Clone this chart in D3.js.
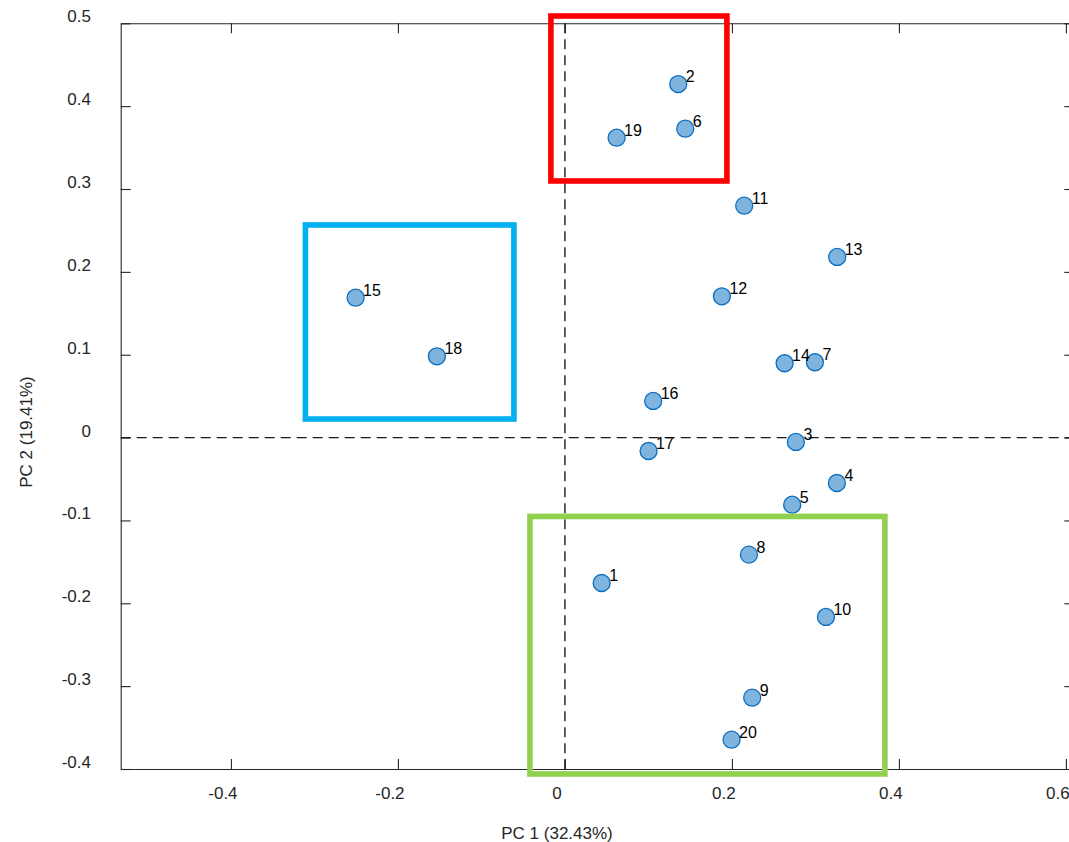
<!DOCTYPE html>
<html>
<head>
<meta charset="utf-8">
<script src="https://cdn.jsdelivr.net/npm/d3@7"></script>
<style>
  html, body { margin: 0; padding: 0; background: #fff; }
  svg { display: block; font-family: "Liberation Sans", Arial, sans-serif; }
</style>
</head>
<body>
<svg id="chart" width="1069" height="842"></svg>
<script>
// ---- data ----
const sampleIds = ["1","2","3","4","5","6","7","8","9","10","11","12","13","14","15","16","17","18","19","20"];
const pc1 = [0.0440, 0.1357, 0.2766, 0.3257, 0.2722, 0.1441, 0.2994, 0.2204, 0.2243, 0.3126,
             0.2147, 0.1880, 0.3261, 0.2631, -0.2507, 0.1057, 0.1002, -0.1533, 0.0619, 0.1996];
const pc2 = [-0.1755, 0.4267, -0.0053, -0.0548, -0.0810, 0.3728, 0.0909, -0.1413, -0.3139, -0.2165,
             0.2799, 0.1705, 0.2180, 0.0897, 0.1688, 0.0442, -0.0162, 0.0981, 0.3619, -0.3646];
const xTicks = [-0.4, -0.2, 0, 0.2, 0.4, 0.6];
const yTicks = [-0.4, -0.3, -0.2, -0.1, 0, 0.1, 0.2, 0.3, 0.4, 0.5];
const xTickLabels = ["-0.4", "-0.2", "0", "0.2", "0.4", "0.6"];
const yTickLabels = ["-0.4", "-0.3", "-0.2", "-0.1", "0", "0.1", "0.2", "0.3", "0.4", "0.5"];
const xDomain = [-0.532, 0.61];
const yDomain = [-0.4, 0.5];
const xTitle = "PC 1 (32.43%)";
const yTitle = "PC 2 (19.41%)";
// group boxes (data units): [x1, x2, y1, y2]
const boxNames = ["red", "blue", "green"];
const boxX1 = [-0.0168, -0.3108, -0.0419];
const boxX2 = [0.1940, -0.0611, 0.3832];
const boxY1 = [0.5088, 0.2566, -0.0952];
const boxY2 = [0.3097, 0.0224, -0.4060];
const boxColors = ["#ff0000", "#00b0f0", "#92d050"];

// ---- layout ----
const plotLeft = 120.7, plotTop = 23.3, plotBottom = 769;
const x = d3.scaleLinear().domain(xDomain).range([plotLeft, plotLeft + (xDomain[1] - xDomain[0]) * 835]);
const y = d3.scaleLinear().domain(yDomain).range([plotBottom, plotTop]);
const plotRight = x(xDomain[1]);

const svg = d3.select("#chart");
const axisColor = "#262626";

// dashed zero lines
svg.append("line")
  .attr("x1", x(0)).attr("x2", x(0)).attr("y1", plotTop).attr("y2", plotBottom)
  .attr("stroke", "#1a1a1a").attr("stroke-width", 1.4).attr("stroke-dasharray", "10,6");
svg.append("line")
  .attr("x1", plotLeft).attr("x2", plotRight).attr("y1", y(0)).attr("y2", y(0))
  .attr("stroke", "#1a1a1a").attr("stroke-width", 1.4).attr("stroke-dasharray", "10,6");

// axes: box with inward ticks on all sides
const tickLen = 10;
const gB = svg.append("g").attr("transform", `translate(0,${plotBottom})`)
  .call(d3.axisBottom(x).tickValues(xTicks).tickSizeInner(-tickLen).tickSizeOuter(0).tickFormat(""));
const gT = svg.append("g").attr("transform", `translate(0,${plotTop})`)
  .call(d3.axisTop(x).tickValues(xTicks).tickSizeInner(-tickLen).tickSizeOuter(0).tickFormat(""));
const gL = svg.append("g").attr("transform", `translate(${plotLeft},0)`)
  .call(d3.axisLeft(y).tickValues(yTicks).tickSizeInner(-tickLen).tickSizeOuter(0).tickFormat(""));
const gR = svg.append("g").attr("transform", `translate(${plotRight},0)`)
  .call(d3.axisRight(y).tickValues(yTicks).tickSizeInner(-tickLen).tickSizeOuter(0).tickFormat(""));
[gB, gT, gL, gR].forEach(g => {
  g.selectAll("path.domain").attr("stroke", axisColor).attr("stroke-width", 1.1);
  g.selectAll(".tick line").attr("stroke", axisColor).attr("stroke-width", 1.1);
});

// tick labels
svg.append("g").selectAll("text").data(xTicks).join("text")
  .attr("x", (d) => x(d) - 8)
  .attr("y", 799)
  .attr("text-anchor", "middle")
  .attr("font-size", 17).attr("fill", axisColor)
  .text((d, i) => xTickLabels[i]);
svg.append("g").selectAll("text").data(yTicks).join("text")
  .attr("x", 91)
  .attr("y", (d) => y(d) - 7)
  .attr("dy", "0.35em")
  .attr("text-anchor", "end")
  .attr("font-size", 17).attr("fill", axisColor)
  .text((d, i) => yTickLabels[i]);

// axis titles
svg.append("text")
  .attr("x", 557).attr("y", 839)
  .attr("text-anchor", "middle").attr("font-size", 17).attr("fill", axisColor)
  .text(xTitle);
svg.append("text")
  .attr("transform", `translate(31.5,432) rotate(-90)`)
  .attr("text-anchor", "middle").attr("font-size", 17).attr("fill", axisColor)
  .text(yTitle);

// points
const pts = sampleIds.map((id, i) => ({ id, px: pc1[i], py: pc2[i] }));
svg.append("g").selectAll("circle").data(pts).join("circle")
  .attr("cx", d => x(d.px)).attr("cy", d => y(d.py)).attr("r", 8.5)
  .attr("fill", "#7fb4df").attr("stroke", "#0a6fc2").attr("stroke-width", 1.3);
svg.append("g").selectAll("text").data(pts).join("text")
  .attr("x", d => x(d.px) + 7.5).attr("y", d => y(d.py) - 2)
  .attr("font-size", 16).attr("fill", "#000")
  .text(d => d.id);

// group boxes
svg.append("g").selectAll("rect").data(boxNames).join("rect")
  .attr("x", (d, i) => x(boxX1[i]))
  .attr("y", (d, i) => y(boxY1[i]))
  .attr("width", (d, i) => x(boxX2[i]) - x(boxX1[i]))
  .attr("height", (d, i) => y(boxY2[i]) - y(boxY1[i]))
  .attr("fill", "none")
  .attr("stroke", (d, i) => boxColors[i])
  .attr("stroke-width", 5.6);
</script>
</body>
</html>
